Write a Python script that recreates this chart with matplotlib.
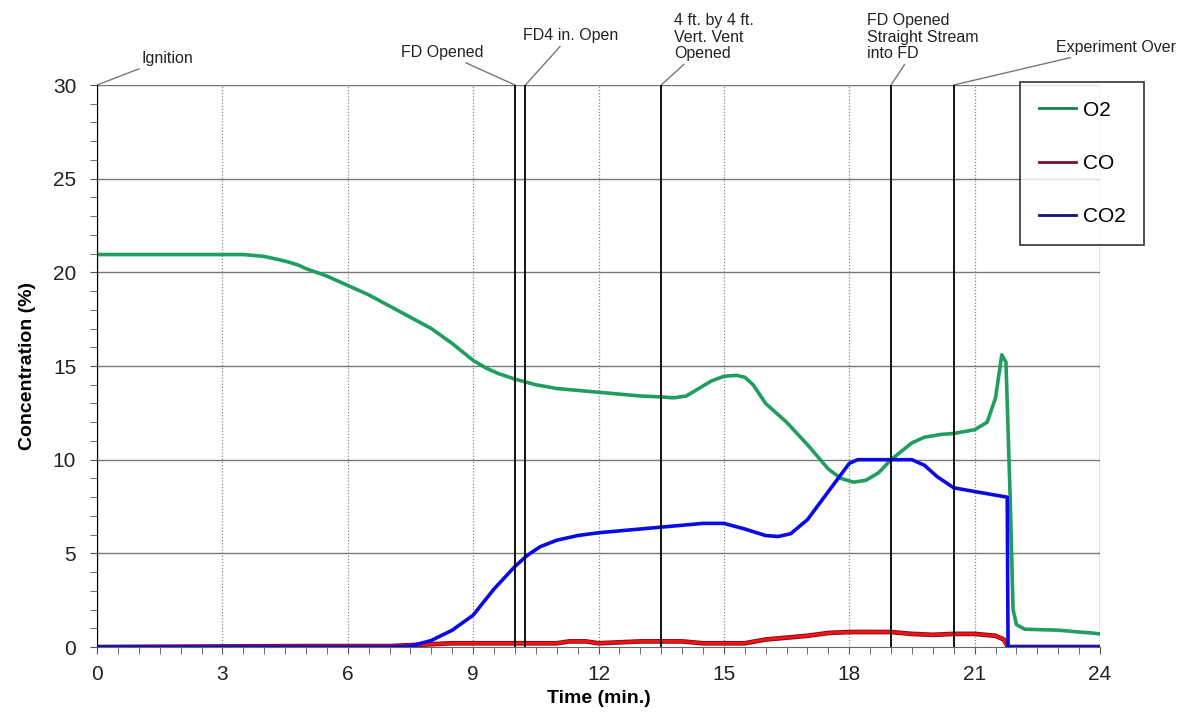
import numpy as np
import matplotlib
matplotlib.use("Agg")
import matplotlib.pyplot as plt
from matplotlib.lines import Line2D
from matplotlib.ticker import MultipleLocator

plt.rcParams["font.family"] = ["Liberation Sans", "DejaVu Sans"]

# O2 concentration (%) vs time (min)
o2_t = [0, 1, 2, 3, 3.5, 4, 4.5, 4.8, 5, 5.5, 6, 6.5, 7, 7.5, 8, 8.5, 9, 9.3,
        9.6, 10, 10.5, 11, 12, 13, 13.5, 13.8, 14.1, 14.4, 14.7, 15.0, 15.3,
        15.5, 15.7, 16, 16.5, 17, 17.5, 17.8, 18.1, 18.4, 18.7, 19, 19.5, 19.8,
        20.2, 20.5, 21, 21.3, 21.5, 21.65, 21.75, 21.85, 21.92, 22, 22.2, 23,
        23.5, 23.8, 24]
o2_v = [20.95, 20.95, 20.95, 20.95, 20.95, 20.85, 20.6, 20.4, 20.2, 19.8, 19.3,
        18.8, 18.2, 17.6, 17.0, 16.2, 15.3, 14.9, 14.6, 14.3, 14.0, 13.8, 13.6,
        13.4, 13.35, 13.3, 13.4, 13.8, 14.2, 14.45, 14.5, 14.4, 14.0, 13.0,
        12.0, 10.8, 9.5, 9.0, 8.8, 8.9, 9.3, 10.0, 10.9, 11.2, 11.35, 11.4,
        11.6, 12.0, 13.3, 15.6, 15.2, 8.0, 2.0, 1.2, 0.95, 0.9, 0.8, 0.75,
        0.7]

# CO concentration (%)
co_t = [0, 5, 7, 7.5, 8, 8.5, 9, 11, 11.3, 11.7, 12, 13, 14, 14.5, 15.5, 16,
        17, 17.5, 18, 19, 19.5, 20, 20.5, 21, 21.5, 21.7, 21.8, 24]
co_v = [0.0, 0.05, 0.05, 0.1, 0.15, 0.2, 0.2, 0.2, 0.3, 0.3, 0.2, 0.3, 0.3,
        0.2, 0.2, 0.4, 0.6, 0.75, 0.8, 0.8, 0.7, 0.65, 0.7, 0.7, 0.6, 0.4,
        0.0, 0.0]

# CO2 concentration (%)
co2_t = [0, 7, 7.5, 8, 8.5, 9, 9.5, 10, 10.3, 10.6, 11, 11.5, 12, 13, 14, 14.5,
         15, 15.5, 16, 16.3, 16.6, 17, 17.5, 18, 18.2, 19.5, 19.8, 20.1, 20.5,
         21, 21.78, 21.8, 24]
co2_v = [0.0, 0.0, 0.05, 0.35, 0.9, 1.7, 3.1, 4.3, 4.9, 5.35, 5.7, 5.95, 6.1,
         6.3, 6.5, 6.6, 6.6, 6.3, 5.95, 5.9, 6.05, 6.8, 8.3, 9.8, 10.0, 10.0,
         9.7, 9.1, 8.5, 8.3, 8.0, 0.0, 0.0]

# event markers: time, label, text offset (px), horizontal alignment
event_t = [0, 10.0, 10.25, 13.5, 19.0, 20.5]
event_labels = ["Ignition", "FD Opened", "FD4 in. Open",
                "4 ft. by 4 ft.\nVert. Vent\nOpened",
                "FD Opened\nStraight Stream\ninto FD", "Experiment Over"]
event_offsets = [(70, 27), (-73, 33), (45, 50), (13, 48), (-24, 48), (162, 38)]
event_ha = ["center", "center", "center", "left", "left", "center"]

fig = plt.figure(figsize=(12.01, 7.21), dpi=100)
ax = fig.add_axes([0.0808, 0.1026, 0.8351, 0.7795])

ax.plot(o2_t, o2_v, color="#1f9e60", lw=2.6, zorder=4)
ax.plot(co_t, co_v, color="#7a1020", lw=3.4, zorder=3)
ax.plot(co_t, co_v, color="#ff1010", lw=2.0, zorder=3)
ax.plot(co2_t, co2_v, color="#0a0ae6", lw=2.6, zorder=5)

for t in event_t:
    ax.axvline(t, color="black", lw=1.6 if t == 0 else 1.3, zorder=6)

for t, lab, (dx, dy), ha in zip(event_t, event_labels, event_offsets, event_ha):
    ax.annotate(lab, xy=(t, 30), xycoords="data", xytext=(dx, dy),
                textcoords="offset pixels", ha=ha, va="center",
                multialignment="left", fontsize=11.5, color="#222222",
                linespacing=1.1, annotation_clip=False,
                arrowprops=dict(arrowstyle="-", color="#777777", lw=1.0,
                                shrinkA=1, shrinkB=0))

ax.set_xlim(0, 24)
ax.set_ylim(0, 30)
ax.xaxis.set_major_locator(MultipleLocator(3))
ax.xaxis.set_minor_locator(MultipleLocator(0.5))
ax.yaxis.set_major_locator(MultipleLocator(5))
ax.yaxis.set_minor_locator(MultipleLocator(1))
ax.tick_params(which="both", direction="out", length=5, color="#555555",
               labelsize=15, labelcolor="#222222")
ax.tick_params(axis="x", pad=8)
ax.tick_params(axis="y", pad=10)

for x in range(3, 24, 3):
    ax.axvline(x, color="#888888", lw=0.9, ls=(0, (1, 1.5)), zorder=1)
for y in range(5, 31, 5):
    ax.axhline(y, color="#777777", lw=1.0, zorder=1)
ax.axvline(24, color="#888888", lw=1.0, zorder=1)

for s in ["top", "right"]:
    ax.spines[s].set_visible(False)
ax.spines["bottom"].set_color("#666666")
ax.spines["left"].set_color("black")

ax.set_xlabel("Time (min.)", fontsize=14, fontweight="bold", labelpad=4)
ax.set_ylabel("Concentration (%)", fontsize=14, fontweight="bold", labelpad=12)

handles = [Line2D([], [], color="#1e7d55", lw=2),
           Line2D([], [], color="#7a1030", lw=2),
           Line2D([], [], color="#101080", lw=2)]
leg = fig.legend(handles, ["O2", "CO", "CO2"], loc="upper left",
                 bbox_to_anchor=(1020 / 1201, 1 - 82 / 721), fontsize=15,
                 frameon=True, fancybox=False, edgecolor="black",
                 handlelength=1.8, handletextpad=0.3, labelspacing=1.65,
                 borderpad=0.9, borderaxespad=0)
leg.get_frame().set_linewidth(1.2)
leg.set_zorder(10)

fig.savefig("out.png", dpi=100)
